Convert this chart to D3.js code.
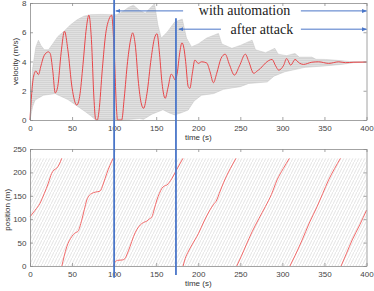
<!DOCTYPE html>
<html>
<head>
<meta charset="utf-8">
<script src="https://cdn.jsdelivr.net/npm/d3@7"></script>
<style>
  body { margin: 0; background: #fff; }
  svg { display: block; }
  .tick text { font-family: "Liberation Sans", Arial, sans-serif; font-size: 8px; fill: #444; }
  .axis path, .axis line { stroke: #8c8c8c; stroke-width: 0.8; }
</style>
</head>
<body>
<div id="chart"></div>
<script>
// Ring road: velocity and position of the vehicles, one car highlighted in red

// tick labels
const timeTicks = [0, 50, 100, 150, 200, 250, 300, 350, 400];
const velocityTicks = [0, 2, 4, 6, 8];
const positionTicks = [0, 50, 100, 150, 200, 250];
const ringLength = 230;

// red car velocity [time s, m/s]
const redVelocity = [
  [0, 0], [2, 1.8], [4, 2.9], [7, 3.35], [10, 3.1], [13, 3.7], [16, 4.3], [20, 4.62],
  [22, 4.66], [24, 4.55], [27, 3.4], [30, 1.85], [33, 2.3], [37, 4.6], [41, 6.07],
  [45, 4.8], [50, 2.2], [55.6, 1.02], [59, 1.6], [63, 3.8], [67, 6.3], [70, 7.17],
  [73, 5.5], [76, 1.5], [78, 0.05], [80, 0], [82, 0.6], [86, 3.5], [90, 5.9], [94, 6.9],
  [97, 7.17], [100, 4.8], [103, 0.6], [104, 0], [109, 0], [112, 1.5], [116, 4], [120, 5.6],
  [122, 5.96], [125, 5.2], [129, 2.5], [132, 1.2], [135, 0.8], [139, 1.8], [144, 4.2],
  [148, 5.6], [151, 5.9], [154, 4.5], [157, 2.5], [160.7, 1.48], [164, 2.2], [168, 3.14],
  [170, 3.0], [172.6, 2.73], [175, 3.2], [178, 4.6], [180.6, 5.28], [183, 4.9], [185, 4.0],
  [188, 2.3], [190, 2.16], [193, 3.2], [196, 4.1], [200, 3.87], [204, 3.98], [210, 3.9],
  [214, 3.3], [218, 2.55], [222, 3.2], [227, 4.2], [232, 4.5], [237, 3.8], [243, 3.07],
  [249, 3.7], [256, 4.5], [260, 4.0], [266, 3.19], [270, 3.35], [274, 3.53], [280, 3.9],
  [287.7, 4.14], [292, 3.7], [295.6, 3.41], [301.6, 3.75], [305, 4.2], [310, 3.75],
  [315, 4.14], [320, 3.9], [325, 3.8], [335, 3.95], [343, 3.98], [355, 3.87], [367, 3.98],
  [375, 3.92], [385, 3.95], [400, 3.96]
];

// envelope of all the other cars' velocities
const grayUpper = [
  [0, 0], [3, 3.5], [7, 5.0], [10, 5.45], [13, 5.1], [17, 4.8], [22, 4.8], [27, 5.2],
  [33, 5.7], [41, 6.1], [48, 6.5], [56, 6.85], [64, 7.1], [72, 7.2], [85, 7.22], [97, 7.2],
  [103, 7.2], [110, 7.4], [117, 7.7], [123, 7.85], [130, 7.5], [137, 7.3], [142, 7.6],
  [148, 7.95], [152, 6.5], [156, 5.6], [163, 6.0], [172, 6.7], [181, 6.9], [186, 5.6],
  [192, 5.0], [200, 5.2], [210, 5.6], [224, 5.92], [228, 5.2], [240, 4.9], [250, 5.1],
  [264, 5.46], [268, 4.8], [280, 4.6], [291, 4.9], [295, 4.5], [305, 4.4], [315, 4.55],
  [320, 4.3], [335, 4.3], [340, 4.15], [351, 4.14], [365, 4.08], [380, 4.0], [400, 3.98]
];
const grayLower = [
  [0, 0], [3, 0.9], [6, 1.36], [16, 1.7], [30, 1.8], [45, 1.4], [55, 1.0], [65, 0.6],
  [72, 0.3], [78, 0], [104, 0], [112, 0], [120, 0.05], [130, 0.1], [135, 0.05], [145, 0.4],
  [158, 0.7], [165, 0.5], [172, 0.35], [180, 0.5], [188, 0.68], [195, 1.3], [204, 1.7],
  [218, 1.8], [230, 2.1], [250, 2.28], [260, 2.5], [282, 2.6], [290, 3.0], [303, 3.3],
  [327, 3.6], [351, 3.7], [370, 3.8], [385, 3.92], [400, 3.95]
];

// red car position on the ring [time s, m]
const redPosition = [
  [0, 105], [6, 119], [11.9, 134], [17, 155], [21.8, 177], [25.8, 198], [28.5, 205],
  [31.7, 209], [35, 218], [37.7, 230],
  [37.9, 0], [40.5, 20], [43.7, 41], [49.6, 62.6], [53, 70], [57, 74], [61.5, 98],
  [64.5, 120], [67.5, 141], [70.5, 151], [73.4, 155], [78, 158], [83.3, 160], [87, 175],
  [91.3, 198], [95, 215], [98.8, 230],
  [99.2, 0], [101, 8], [104, 12], [110, 13], [113, 16], [115, 23.5], [119, 42], [123, 62.6],
  [127, 78], [131, 87.6], [134.9, 93], [138.9, 96], [141.5, 100], [144.9, 105], [147.8, 122],
  [150.8, 141], [153.8, 155], [156.8, 166], [159.7, 171], [162.7, 173], [165.7, 179],
  [168.7, 187], [174.6, 206.6], [181.8, 230],
  [182, 0], [184.5, 16], [188.5, 32], [192.5, 45], [200.4, 70], [207, 96], [214, 120],
  [218, 131], [222, 141], [225, 155], [228, 169], [232, 186], [236, 201], [240.5, 216],
  [244.8, 230],
  [245.8, 0], [251, 20], [257, 45], [264, 73], [272, 101], [279.8, 127], [287, 153],
  [293.7, 184], [301, 208], [308.3, 230],
  [309, 0], [315, 22], [323.5, 55.6], [332, 92], [341.3, 127], [348, 155], [355, 184],
  [362, 208], [369, 230],
  [369.8, 0], [376, 26], [383, 55.6], [392, 88], [400, 119]
];

// vertical event markers: time, top (m/s), bottom (m)
const events = [
  { t: 100, top: 8.2, bottom: -25 },
  { t: 173.5, top: 6.95, bottom: -19 }
];

// annotations: arrow level (m/s), left arrow from/to, text centre, right arrow from/to
const annotations = [
  { label: "with automation", v: 7.46, leftFrom: 182, leftTo: 102, textT: 255, rightFrom: 322, rightTo: 400 },
  { label: "after attack", v: 6.21, leftFrom: 227, leftTo: 177, textT: 275.6, rightFrom: 322, rightTo: 400 }
];

const W = 374, H = 291;
const blue = "#4a76c8";
const red = "#e8474a";

const svg = d3.select("#chart").append("svg").attr("width", W).attr("height", H);

const x = d3.scaleLinear().domain([0, 400]).range([30, 366.5]);
const yVel = d3.scaleLinear().domain([0, 8]).range([120, 3]);
const yPos = d3.scaleLinear().domain([0, 250]).range([266, 149]);

// patterns for the dense gray ensembles
const defs = svg.append("defs");
const hp = defs.append("pattern").attr("id", "mesh")
  .attr("patternUnits", "userSpaceOnUse").attr("width", 4).attr("height", 2);
hp.append("rect").attr("width", 4).attr("height", 2).attr("fill", "#e0e0e0");
hp.append("line").attr("x1", 0).attr("x2", 4).attr("y1", 0.5).attr("y2", 0.5)
  .attr("stroke", "#c6c6c6").attr("stroke-width", 0.5);

const dp = defs.append("pattern").attr("id", "diag")
  .attr("patternUnits", "userSpaceOnUse").attr("width", 3).attr("height", 6);
dp.append("line").attr("x1", 0).attr("y1", 6).attr("x2", 3).attr("y2", 0)
  .attr("stroke", "#cecece").attr("stroke-width", 0.55);

const arrowHead = defs.append("marker").attr("id", "arr")
  .attr("viewBox", "0 0 10 10").attr("refX", 9).attr("refY", 5)
  .attr("markerWidth", 5).attr("markerHeight", 5).attr("orient", "auto");
arrowHead.append("path").attr("d", "M0,1 L10,5 L0,9 Z").attr("fill", blue);

// top plot: gray envelope
const envLine = d3.line().x(d => x(d[0])).y(d => yVel(d[1]));
svg.append("path")
  .attr("d", envLine(grayUpper.concat(grayLower.slice().reverse())) + "Z")
  .attr("fill", "url(#mesh)")
  .attr("stroke", "#c4c4c4").attr("stroke-width", 0.5);

svg.append("path")
  .datum(redVelocity)
  .attr("d", d3.line().x(d => x(d[0])).y(d => yVel(d[1])).curve(d3.curveMonotoneX))
  .attr("fill", "none").attr("stroke", red).attr("stroke-width", 1);

// bottom plot: gray trajectories of all cars
svg.append("rect")
  .attr("x", x(0)).attr("y", yPos(ringLength))
  .attr("width", x(400) - x(0)).attr("height", yPos(0) - yPos(ringLength))
  .attr("fill", "url(#diag)");

// split red positions at wraps
const segments = [];
let cur = [];
redPosition.forEach((p, i) => {
  if (i > 0 && p[1] < redPosition[i - 1][1] - 100) { segments.push(cur); cur = []; }
  cur.push(p);
});
segments.push(cur);

const posLine = d3.line().x(d => x(d[0])).y(d => yPos(d[1])).curve(d3.curveMonotoneX);
svg.selectAll(".redpos").data(segments).enter().append("path")
  .attr("class", "redpos")
  .attr("d", posLine)
  .attr("fill", "none").attr("stroke", "#f26a6a").attr("stroke-width", 1);

// axes with inward ticks on all four sides
function frame(yScale, ticks, fmt) {
  const [yb, yt] = yScale.range();
  const g = svg.append("g").attr("class", "axis");
  g.append("g").attr("transform", `translate(0,${yb})`)
    .call(d3.axisBottom(x).tickValues(timeTicks).tickSizeInner(-3).tickSizeOuter(0).tickPadding(5));
  g.append("g").attr("transform", `translate(0,${yt})`)
    .call(d3.axisTop(x).tickValues(timeTicks).tickSizeInner(-3).tickSizeOuter(0).tickFormat(""));
  g.append("g").attr("transform", `translate(${x(0)},0)`)
    .call(d3.axisLeft(yScale).tickValues(ticks).tickSizeInner(-3).tickSizeOuter(0).tickPadding(3.5).tickFormat(fmt));
  g.append("g").attr("transform", `translate(${x(400)},0)`)
    .call(d3.axisRight(yScale).tickValues(ticks).tickSizeInner(-3).tickSizeOuter(0).tickFormat(""));
  return g;
}
frame(yVel, velocityTicks, d3.format("d"));
frame(yPos, positionTicks, d3.format("d"));

const labelFont = "'Liberation Sans', Arial, sans-serif";
svg.append("text").attr("x", x(200)).attr("y", 139.5).attr("text-anchor", "middle")
  .style("font-family", labelFont).style("font-size", "8px").attr("fill", "#333").text("time (s)");
svg.append("text").attr("x", x(200)).attr("y", 286).attr("text-anchor", "middle")
  .style("font-family", labelFont).style("font-size", "8px").attr("fill", "#333").text("time (s)");
svg.append("text").attr("transform", `translate(17.5,${yVel(4)}) rotate(-90)`)
  .attr("text-anchor", "middle")
  .style("font-family", labelFont).style("font-size", "8px").attr("fill", "#333").text("velocity (m/s)");
svg.append("text").attr("transform", `translate(9.5,${yPos(120)}) rotate(-90)`)
  .attr("text-anchor", "middle")
  .style("font-family", labelFont).style("font-size", "8px").attr("fill", "#333").text("position (m)");

// event markers spanning both plots
svg.selectAll(".event").data(events).enter().append("line")
  .attr("class", "event")
  .attr("x1", d => x(d.t)).attr("x2", d => x(d.t))
  .attr("y1", d => yVel(d.top)).attr("y2", d => yPos(d.bottom))
  .attr("stroke", blue).attr("stroke-width", 1.8);

// annotations
annotations.forEach(a => {
  const yy = yVel(a.v);
  svg.append("line").attr("x1", x(a.leftFrom)).attr("x2", x(a.leftTo))
    .attr("y1", yy).attr("y2", yy).attr("stroke", blue).attr("stroke-width", 1)
    .attr("marker-end", "url(#arr)");
  svg.append("line").attr("x1", x(a.rightFrom)).attr("x2", x(a.rightTo))
    .attr("y1", yy).attr("y2", yy).attr("stroke", blue).attr("stroke-width", 1)
    .attr("marker-end", "url(#arr)");
  svg.append("text").attr("x", x(a.textT)).attr("y", yy + 4.5)
    .attr("text-anchor", "middle")
    .style("font-family", "'Liberation Serif', 'Times New Roman', serif")
    .style("font-size", "14px").attr("fill", "#222").text(a.label);
});
</script>
</body>
</html>
